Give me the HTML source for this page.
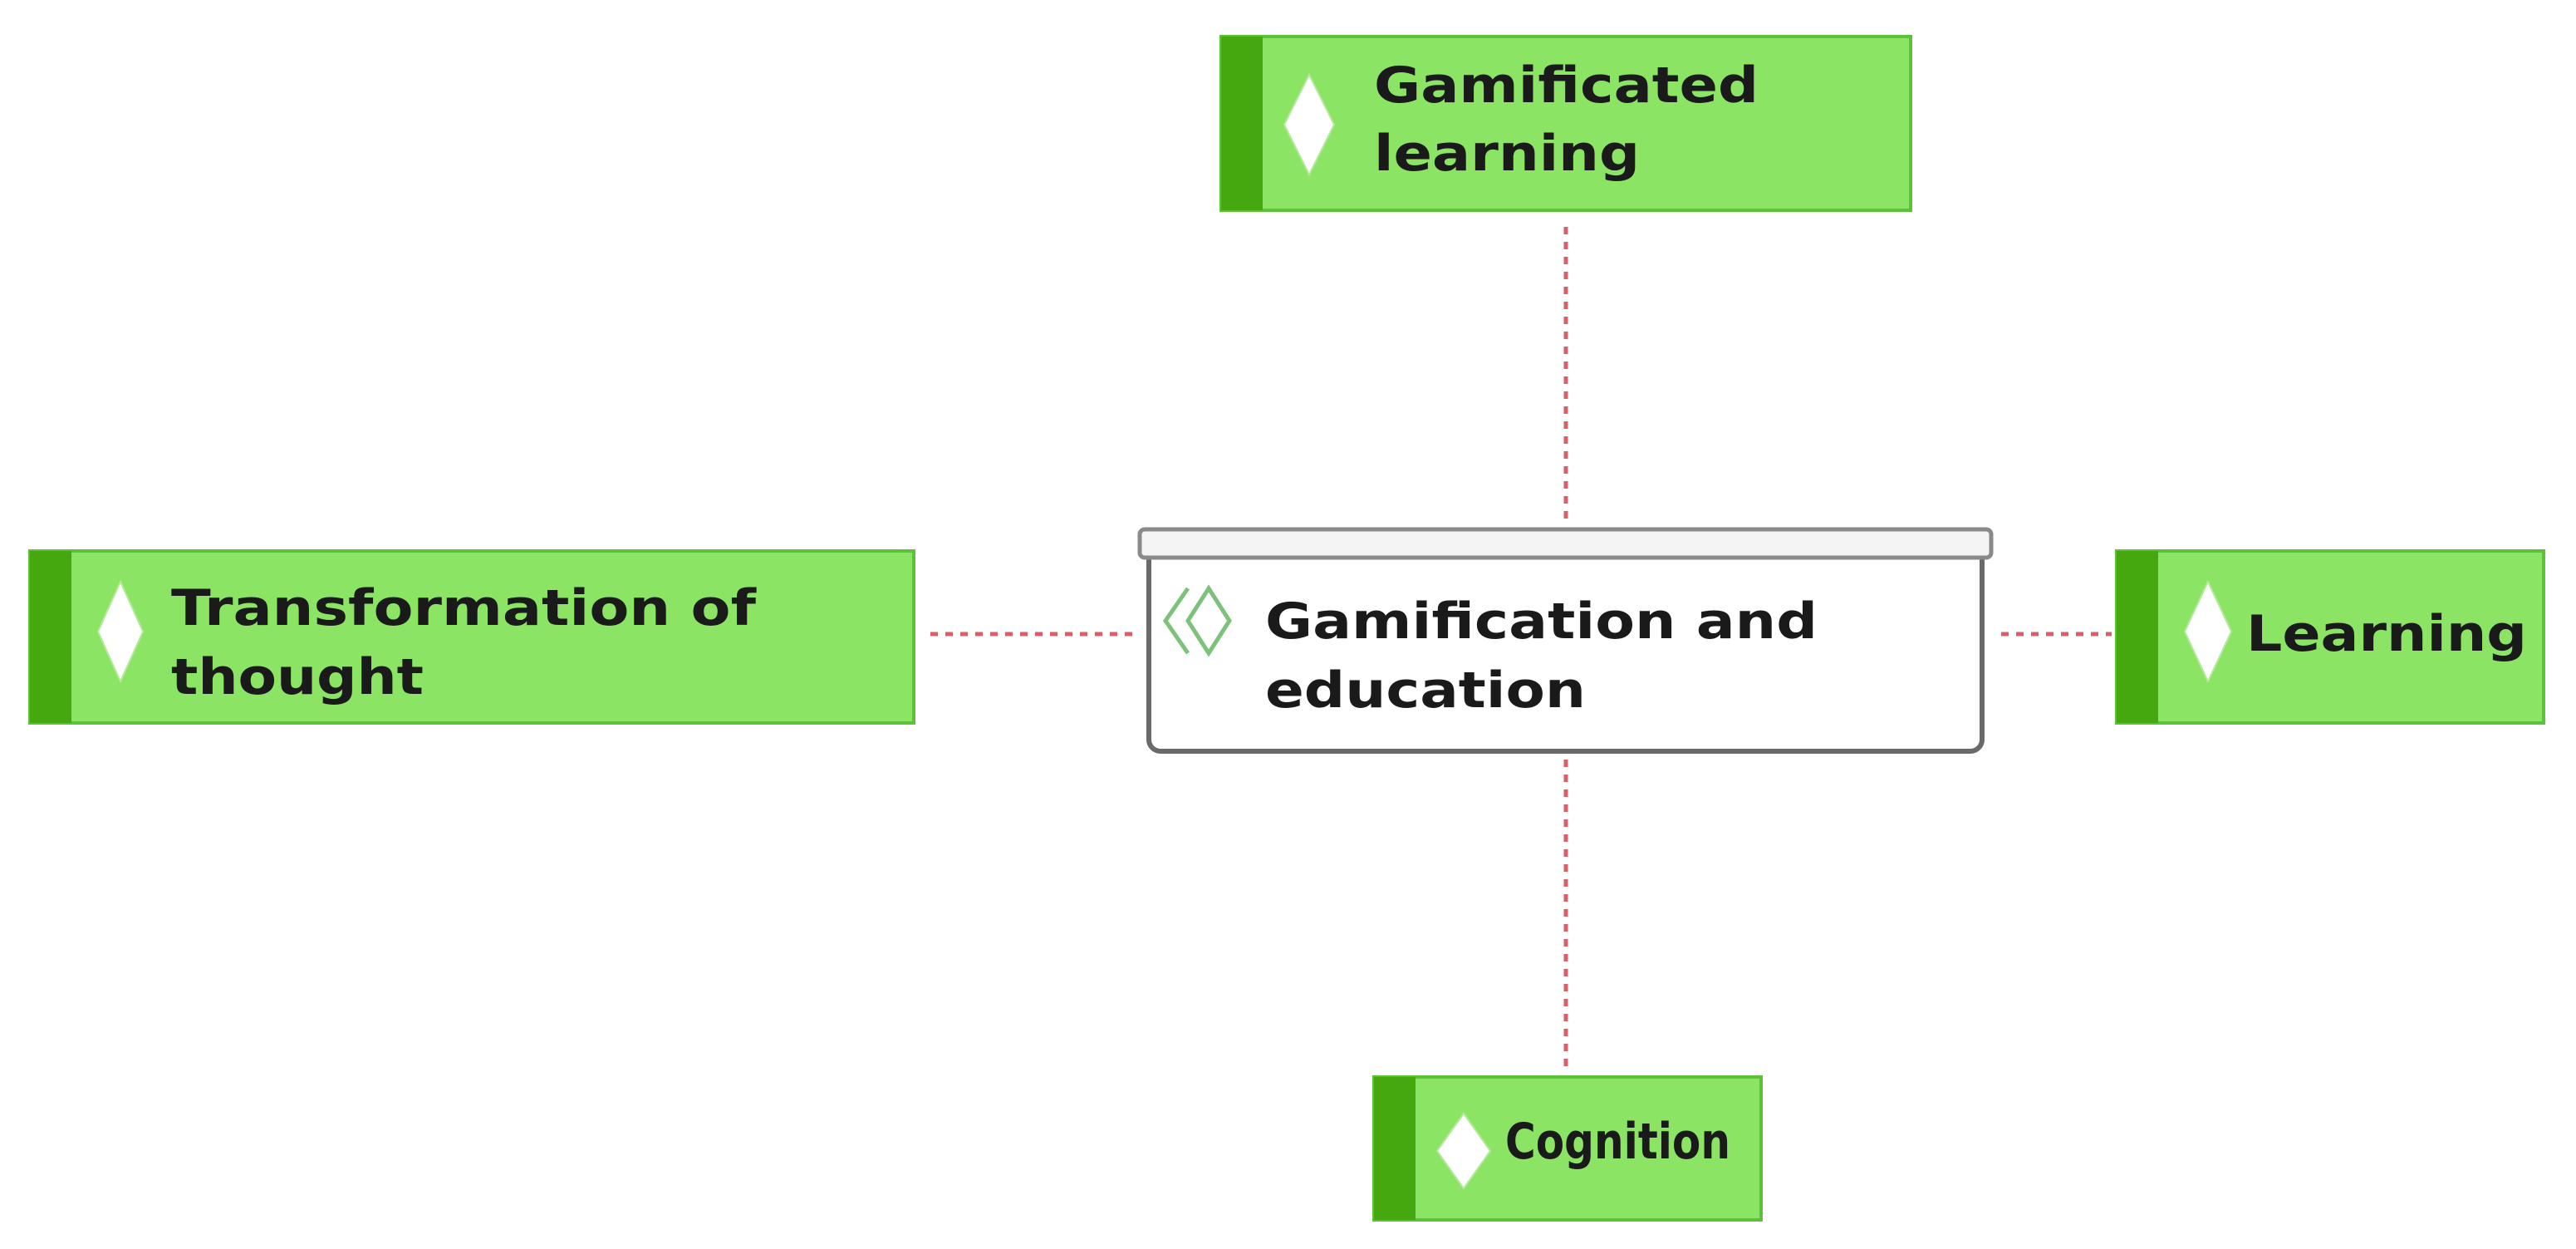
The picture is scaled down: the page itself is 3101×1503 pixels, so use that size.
<!DOCTYPE html>
<html><head><meta charset="utf-8"><style>
html,body{margin:0;padding:0;background:#fff;}
svg{display:block;}
text{font-family:"DejaVu Sans","Liberation Sans",sans-serif;font-weight:bold;fill:#1a1a1a;font-size:60px;}
</style></head><body>
<svg width="3101" height="1503" viewBox="0 0 3101 1503" xmlns="http://www.w3.org/2000/svg">
<rect width="3101" height="1503" fill="#fff"/>
<!-- connectors -->
<g stroke="#d9606a" stroke-width="5" stroke-dasharray="9,9">
<line x1="1885" y1="273" x2="1885" y2="629"/>
<line x1="1885" y1="914" x2="1885" y2="1290"/>
<line x1="1120" y1="763" x2="1365" y2="763"/>
<line x1="2409" y1="763" x2="2542" y2="763"/>
</g>
<!-- green boxes -->
<g>
<rect x="1470" y="44" width="830" height="209" fill="#8be463" stroke="#5cc23a" stroke-width="4"/>
<rect x="1470" y="44" width="50" height="209" fill="#45a80f"/>
<rect x="36" y="663" width="1064" height="207" fill="#8be463" stroke="#5cc23a" stroke-width="4"/>
<rect x="36" y="663" width="50" height="207" fill="#45a80f"/>
<rect x="2548" y="663" width="514" height="207" fill="#8be463" stroke="#5cc23a" stroke-width="4"/>
<rect x="2548" y="663" width="50" height="207" fill="#45a80f"/>
<rect x="1654" y="1296" width="466" height="172" fill="#8be463" stroke="#5cc23a" stroke-width="4"/>
<rect x="1654" y="1296" width="50" height="172" fill="#45a80f"/>
</g>
<!-- diamonds -->
<g fill="#fff" stroke="#b8e8a0" stroke-width="2">
<polygon points="1576,90 1606,150 1576,210 1546,150"/>
<polygon points="145,700 172,760 145,820 118,760"/>
<polygon points="2658,700 2686,760 2658,820 2630,760"/>
<polygon points="1762,1340 1794,1385 1762,1430 1730,1385"/>
</g>
<!-- center box -->
<rect x="1383" y="660" width="1003" height="244" rx="14" fill="#fff" stroke="#6a6a6a" stroke-width="6"/>
<rect x="1372" y="637" width="1025" height="34" rx="6" fill="#f4f4f4" stroke="#8a8a8a" stroke-width="5"/>
<g fill="none" stroke="#7cc27a" stroke-width="5">
<polyline points="1430,708 1403,747 1430,786"/>
<polygon points="1455,708 1480,747 1455,786 1430,747"/>
</g>
<!-- text -->
<text x="1654" y="123" textLength="463" lengthAdjust="spacingAndGlyphs">Gamificated</text>
<text x="1654" y="205" textLength="320" lengthAdjust="spacingAndGlyphs">learning</text>
<text x="206" y="752" textLength="704" lengthAdjust="spacingAndGlyphs">Transformation of</text>
<text x="206" y="835" textLength="304" lengthAdjust="spacingAndGlyphs">thought</text>
<text x="1523" y="768" textLength="665" lengthAdjust="spacingAndGlyphs">Gamification and</text>
<text x="1523" y="851" textLength="386" lengthAdjust="spacingAndGlyphs">education</text>
<text x="2704" y="783" textLength="338" lengthAdjust="spacingAndGlyphs">Learning</text>
<text x="1812" y="1394" textLength="271" lengthAdjust="spacingAndGlyphs">Cognition</text>
</svg>
</body></html>
